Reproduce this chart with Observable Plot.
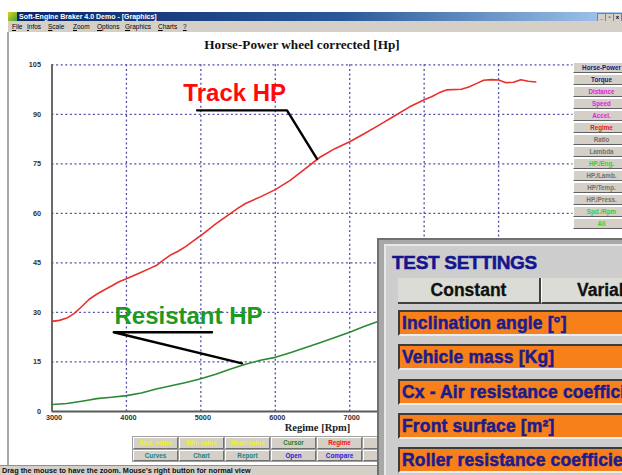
<!DOCTYPE html>
<html><head><meta charset="utf-8">
<script src="https://cdn.jsdelivr.net/npm/d3@7"></script>
<script src="https://cdn.jsdelivr.net/npm/@observablehq/plot@0.6"></script>
<style>
body{margin:0;width:622px;height:475px;overflow:hidden;position:relative;background:#fff;font-family:"Liberation Sans",Arial,sans-serif;}
.abs{position:absolute;}
#chart{left:0;top:0;z-index:1;}
.ov{z-index:3;}
#titlebar{left:8px;top:12px;width:614px;height:9px;background:linear-gradient(to right,#0a246a,#2a5a9a 55%,#a6caf0);color:#fff;font-weight:bold;font-size:7px;line-height:9px;white-space:nowrap;}
#icon{left:0;top:0;width:9px;height:9px;background:linear-gradient(135deg,#e8d020,#40a040);}
.wbtn{top:1px;width:7px;height:7px;background:#d4d0c8;border:0.5px solid #808080;font-size:6px;line-height:7px;color:#000;text-align:center;}
#menubar{left:8px;top:21px;width:614px;height:11px;background:#d4d0c8;font-size:6.5px;line-height:11px;color:#000;white-space:nowrap;}
#menubar span{position:absolute;top:0;}
#leftborder{left:7px;top:32px;width:2px;height:433px;background:#a8a8a8;}
#ctitle{left:0;width:604px;top:37px;text-align:center;font-family:"Liberation Serif","Times New Roman",serif;font-weight:bold;font-size:13.2px;color:#111;}
#xlabel{left:280px;top:422px;width:75px;text-align:center;font-family:"Liberation Serif","Times New Roman",serif;font-weight:bold;font-size:10.5px;color:#222;}
.rbtn{left:573px;width:56px;height:11px;background:#d4d0c8;border-top:1px solid #fff;border-left:1px solid #fff;border-bottom:1px solid #606060;box-sizing:border-box;font-size:6.3px;font-weight:bold;line-height:10px;text-align:center;white-space:nowrap;overflow:hidden;}
#bbox{left:132px;top:436px;width:260px;height:26px;background:#a0a0a0;}
.bbtn{width:45px;height:11.5px;background:#d4d0c8;border-top:1px solid #fff;border-left:1px solid #fff;border-right:1px solid #707070;border-bottom:1px solid #707070;box-sizing:border-box;font-size:6.3px;font-weight:bold;line-height:10px;text-align:center;white-space:nowrap;overflow:hidden;}
#status{left:0;top:465px;width:622px;height:10px;background:#d4d0c8;border-top:1px solid #909090;font-size:7.3px;font-weight:bold;line-height:9px;color:#111;padding-left:2px;white-space:nowrap;}
#dlg{left:377px;top:238px;width:260px;height:250px;background:#a8a8a8;border-top:2px solid #707070;border-left:2px solid #707070;box-sizing:border-box;z-index:5;}
#dlgin{left:384px;top:244px;width:260px;height:240px;background:#cdcdcd;border-top:2px solid #e8e8e8;border-left:2px solid #e8e8e8;box-sizing:border-box;z-index:6;}
#ts{left:392px;top:252px;font-size:19px;font-weight:bold;color:#15158e;z-index:7;letter-spacing:-0.3px;white-space:nowrap;-webkit-text-stroke:0.5px #15158e;}
.tab{top:278px;height:24px;background:#dcdcd6;font-size:17.5px;font-weight:bold;color:#111;line-height:24px;z-index:7;white-space:nowrap;overflow:hidden;border-bottom:2px solid #404040;box-sizing:content-box;-webkit-text-stroke:0.3px #111;}
.row{left:398px;width:240px;height:26px;background:#f7801a;border-top:2px solid #3c3c3c;border-left:2px solid #3c3c3c;border-bottom:2px solid #ececec;box-sizing:border-box;font-size:17.5px;font-weight:bold;color:#1c1c8c;line-height:22px;padding-left:2px;white-space:nowrap;overflow:hidden;z-index:7;-webkit-text-stroke:0.5px #1c1c8c;letter-spacing:0.15px;}
</style></head><body>
<div id="chart" class="abs"></div>
<div id="titlebar" class="abs ov"><div id="icon" class="abs"></div><span style="position:absolute;left:11px;">Soft-Engine Braker 4.0 Demo - [Graphics]</span>
<div class="abs wbtn" style="left:589px">_</div><div class="abs wbtn" style="left:597px">&#9643;</div><div class="abs wbtn" style="left:605px">x</div></div>
<div id="menubar" class="abs ov"></div>
<div id="leftborder" class="abs ov"></div>
<div id="ctitle" class="abs ov">Horse-Power wheel corrected [Hp]</div>
<div id="xlabel" class="abs ov">Regime [Rpm]</div>
<div id="bbox" class="abs ov"></div>
<div id="status" class="abs ov">Drag the mouse to have the zoom. Mouse's right button for normal view</div>
<div id="dlg" class="abs"></div>
<div id="dlgin" class="abs"></div>
<div id="ts" class="abs">TEST SETTINGS</div>
<div class="abs tab" style="left:398px;width:141px;text-align:center;border-right:2px solid #404040;">Constant</div>
<div class="abs tab" style="left:541px;width:100px;padding-left:35px;border-left:1px solid #fff;">Variable</div>
<div id="rows"></div>
<script>
// Data (Regime [Rpm] vs HP)
const rpmTrack = [3000,3100,3200,3300,3400,3500,3600,3700,3800,3900,4000,4100,4200,4300,4400,4500,4600,4700,4800,4900,5000,5200,5400,5500,5600,5800,6000,6200,6400,6600,6800,7000,7200,7400,7600,7800,8000,8100,8200,8300,8500,8600,8700,8800,8900,9000,9100,9200,9300,9400,9500];
const hpTrack  = [27.3,27.6,28.3,29.7,31.8,34.0,35.5,36.8,38.0,39.3,40.2,41.2,42.2,43.2,44.2,45.9,47.5,48.6,50.0,51.7,53.3,56.8,60.0,61.6,63.0,65.0,67.2,70.0,73.5,77.0,79.6,81.7,84.2,86.8,89.5,92.2,94.4,95.3,96.5,97.4,97.6,98.3,99.3,100.3,100.5,100.4,99.6,99.7,100.5,100.0,99.8];
const rpmResist = [3000,3200,3400,3500,3600,3800,4000,4200,4400,4600,4800,5000,5200,5400,5600,5800,6000,6200,6400,6600,6800,7000,7200,7400];
const hpResist  = [2.1,2.4,3.1,3.5,3.9,4.3,4.8,5.6,6.8,7.8,8.8,9.9,11.3,12.9,14.3,15.5,16.4,17.8,19.3,20.8,22.4,24.0,25.8,27.4];
const xTicks = [3000,4000,5000,6000,7000];
const yTicks = [0,15,30,45,60,75,90,105];
const xGrid = [4000,5000,6000,7000,8000,9000];
const yGrid = [15,30,45,60,75,90,105];
// Annotations (data units)
const labelNames = ["Track HP","Resistant HP"];
const labelRpm = [4765,3839];
const labelHp = [96.4,28.9];
const trackLeaderRpm = [4949,6157,6560];
const trackLeaderHp = [91.2,91.2,76.5];
const resistLeaderRpm = [5150,3830,5553];
const resistLeaderHp = [24.0,24.0,14.6];

const menuItems = [["File",4],["Infos",19],["Scale",40],["Zoom",65],["Options",89],["Graphics",117],["Charts",150],["?",175]];
const rightButtons = [["Horse-Power","#0a1a8a"],["Torque","#0a1a8a"],["Distance","#e020e0"],["Speed","#e020e0"],["Accel.","#e020e0"],["Regime","#f01010"],["Ratio","#707070"],["Lambda","#707070"],["HP./Eng.","#30d030"],["HP./Lamb.","#707070"],["HP/Temp.","#707070"],["HP./Press.","#707070"],["Spd./Rpm","#30d030"],["All","#30d030"]];
const bottomRow1 = [["Max. value","#f0f020"],["Min. value","#f0f020"],["Mean value","#f0f020"],["Cursor","#208020"],["Regime","#f01010"],["Save","#f01010"]];
const bottomRow2 = [["Curves","#208080"],["Chart","#208080"],["Report","#208080"],["Open","#2020e0"],["Compare","#2020e0"],["Save","#2020e0"]];
const settingRows = ["Inclination angle [°]","Vehicle mass [Kg]","Cx - Air resistance coefficient","Front surface [m²]","Roller resistance coefficient"];

const track = rpmTrack.map((r,i)=>({rpm:r,hp:hpTrack[i]}));
const resist = rpmResist.map((r,i)=>({rpm:r,hp:hpResist[i]}));
const tl = trackLeaderRpm.map((r,i)=>({rpm:r,hp:trackLeaderHp[i]}));
const rl = resistLeaderRpm.map((r,i)=>({rpm:r,hp:resistLeaderHp[i]}));
const labels = labelNames.map((n,i)=>({name:n,rpm:labelRpm[i],hp:labelHp[i]}));

const plot = Plot.plot({
  width:622, height:475,
  marginLeft:51.5, marginRight:49.5, marginTop:64.3, marginBottom:64,
  x:{domain:[3000,10000]},
  y:{domain:[0,105]},
  style:{fontFamily:"Liberation Sans, Arial, sans-serif",fontSize:"7.3px",fontWeight:"bold",color:"#333",background:"none"},
  marks:[
    Plot.ruleY(yGrid,{stroke:"#5050a8",strokeWidth:1.3,strokeDasharray:"2,2.6"}),
    Plot.ruleX(xGrid,{stroke:"#5050a8",strokeWidth:1.3,strokeDasharray:"2,2.6"}),
    Plot.ruleX([3000],{stroke:"#5a5a5a",strokeWidth:1.8}),
    Plot.ruleY([0],{stroke:"#5a5a5a",strokeWidth:1.8}),
    Plot.axisX({ticks:xTicks,tickSize:0,tickPadding:3.5,label:null,tickFormat:d=>String(d),dx:2}),
    Plot.axisY({ticks:yTicks,tickSize:0,tickPadding:11,label:null,tickFormat:d=>String(d)}),
    Plot.line(track,{x:"rpm",y:"hp",stroke:"#e8302c",strokeWidth:1.6}),
    Plot.line(resist,{x:"rpm",y:"hp",stroke:"#2a8a34",strokeWidth:1.6}),
    Plot.line(tl,{x:"rpm",y:"hp",stroke:"#000",strokeWidth:2.4}),
    Plot.line(rl,{x:"rpm",y:"hp",stroke:"#000",strokeWidth:2.4}),
    Plot.text(labels,{x:"rpm",y:"hp",text:"name",textAnchor:"start",lineAnchor:"middle",fontSize:24,fontWeight:"bold",fill:(d)=>d.name==="Track HP"?"#ff0a0a":"#1e9a1e"})
  ]
});
document.getElementById("chart").appendChild(plot);

const mb = document.getElementById("menubar");
menuItems.forEach(([t,x])=>{const s=document.createElement("span");s.style.left=x+"px";s.innerHTML="<u>"+t[0]+"</u>"+t.slice(1);mb.appendChild(s);});
rightButtons.forEach(([t,c],i)=>{const d=document.createElement("div");d.className="abs rbtn ov";d.style.top=(62+i*12)+"px";d.style.color=c;d.textContent=t;document.body.appendChild(d);});
[bottomRow1,bottomRow2].forEach((row,j)=>row.forEach(([t,c],i)=>{const d=document.createElement("div");d.className="abs bbtn ov";d.style.left=(133+i*46)+"px";d.style.top=(437+j*12.5)+"px";d.style.color=c;d.textContent=t;document.body.appendChild(d);}));
const rows = document.getElementById("rows");
settingRows.forEach((t,i)=>{const d=document.createElement("div");d.className="abs row";d.style.top=(310+i*34.3)+"px";d.textContent=t;rows.appendChild(d);});
</script>
</body></html>
